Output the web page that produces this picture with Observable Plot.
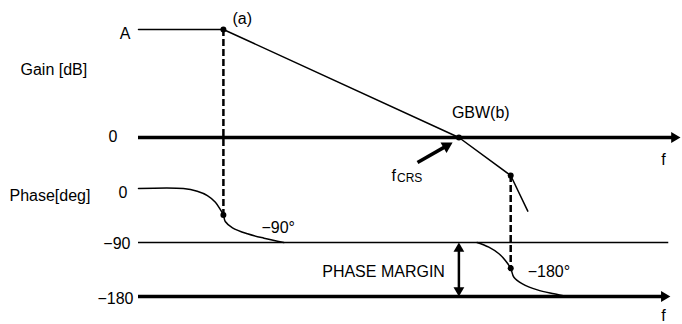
<!DOCTYPE html>
<html>
<head>
<meta charset="utf-8">
<script src="https://cdn.jsdelivr.net/npm/d3@7"></script>
<script src="https://cdn.jsdelivr.net/npm/@observablehq/plot@0.6"></script>
<style>
  body { margin: 0; background: #fff; }
  #chart { width: 682px; height: 324px; }
</style>
</head>
<body>
<div id="chart"></div>
<script>
// ---------------- data ----------------
// x: log-frequency position (arbitrary decades), gain in dB, phase in degrees
const gainA = 88;                 // symbolic open-loop gain "A"
const pole1 = 1.59;               // first pole (a)
const gbw = 6.0;                  // unity-gain crossing GBW(b)
const pole2 = 6.97;               // second pole

const gainX  = [0, pole1, gbw, pole2, 7.29];
const gainDb = [gainA, gainA, 0, -31, -60];

const phase1X   = [0, 0.84, 1.10, 1.29, 1.44, 1.545, pole1, 1.625, 1.76, 2.04, 2.35, 2.72];
const phase1Deg = [0, 0, -4.5, -11.7, -22.8, -37, -44, -55, -65.5, -75.5, -82.8, -90];

const phase2X   = [6.34, 6.56, 6.75, 6.87, pole2, 7.03, 7.19, 7.47, 7.78, 8.03];
const phase2Deg = [-90, -97.8, -108.8, -120, -133, -148, -159, -169, -175.5, -180];

const gainTickLabels  = ["A", "0"];
const gainTickValues  = [gainA, 0];
const phaseTickLabels = ["0", "−90", "−180"];
const phaseTickValues = [0, -90, -180];

const gainAxisEnd  = 10.15;       // frequency axis (gain) arrow tip
const phaseAxisEnd = 9.96;        // frequency axis (phase) arrow tip
const refLineEnd   = 9.93;        // -90° reference line end
const fcrsTail = [5.225, -20.4];  // [x, dB]
const fcrsTip  = [5.88, -4.1];    // [x, dB]

// ---------------- layout / scales ----------------
const W = 682, H = 324;
const xDomain = [0, 10], xRange = [138, 672];
const yDomain = [-180, 0], yRange = [296, 188];
const xS = Plot.scale({x: {domain: xDomain, range: xRange}});
const yS = Plot.scale({y: {domain: yDomain, range: yRange}});
// secondary (gain) axis expressed in the phase scale's units
const gainToY = d3.scaleLinear([0, gainA], [85, 265]);

const phasePole1 = phase1Deg[phase1X.indexOf(pole1)];
const phasePole2 = phase2Deg[phase2X.indexOf(pole2)];
const gainPole2  = gainDb[gainX.indexOf(pole2)];

const gainLine = gainX.map((x, i) => ({x, y: gainToY(gainDb[i])}));
const phase1 = phase1X.map((x, i) => ({x, y: phase1Deg[i]}));
const phase2 = phase2X.map((x, i) => ({x, y: phase2Deg[i]}));

const headR = 4;
const headTip = 1.555 * headR;    // centre-to-tip distance of the triangle symbol

// f_CRS arrow geometry (pixel direction via the scales)
const tail = {x: fcrsTail[0], y: gainToY(fcrsTail[1])};
const tip  = {x: fcrsTip[0],  y: gainToY(fcrsTip[1])};
const tx = xS.apply(tail.x), ty = yS.apply(tail.y);
const hx = xS.apply(tip.x),  hy = yS.apply(tip.y);
const len = Math.hypot(hx - tx, hy - ty);
const ux = (hx - tx) / len, uy = (hy - ty) / len;
const fcrsAngle = Math.atan2(ux, -uy) * 180 / Math.PI;
const fcrsEnd = {x: xS.invert(hx - ux * headTip), y: yS.invert(hy - uy * headTip)};

const font = 16;
const tickOffsets = {"A": [-8, 4], "0g": [-21, -1], "0p": [-11, 4], "−90": [-8, 1], "−180": [-5, 2]};

const tickMarks = [
  ...gainTickLabels.map((t, i) => {
    const key = t === "0" ? "0g" : t;
    return Plot.text([{x: 0, y: gainToY(gainTickValues[i]), t}],
      {x: "x", y: "y", text: "t", textAnchor: "end", dx: tickOffsets[key][0], dy: tickOffsets[key][1], fontSize: font});
  }),
  ...phaseTickLabels.map((t, i) => {
    const key = t === "0" ? "0p" : t;
    return Plot.text([{x: 0, y: phaseTickValues[i], t}],
      {x: "x", y: "y", text: "t", textAnchor: "end", dx: tickOffsets[key][0], dy: tickOffsets[key][1], fontSize: font});
  })
];

const chart = Plot.plot({
  width: W, height: H,
  marginLeft: 0, marginRight: 0, marginTop: 0, marginBottom: 0,
  x: {domain: xDomain, range: xRange, axis: null},
  y: {domain: yDomain, range: yRange, axis: null},
  style: {fontFamily: "'Liberation Sans', Arial, sans-serif", fontSize: font + "px", background: "#fff", overflow: "visible"},
  marks: [
    // frequency axes and -90° reference
    Plot.ruleY([0], {y: d => gainToY(d), x1: 0, x2: gainAxisEnd, insetRight: headTip, stroke: "#000", strokeWidth: 3.5}),
    Plot.dot([{x: gainAxisEnd, y: gainToY(0)}], {x: "x", y: "y", symbol: "triangle", r: headR, rotate: 90, dx: -headTip, fill: "#000", stroke: "none"}),
    Plot.ruleY([-90], {x1: 0, x2: refLineEnd, stroke: "#000", strokeWidth: 1.5}),
    Plot.ruleY([-180], {x1: 0, x2: phaseAxisEnd, insetRight: headTip, stroke: "#000", strokeWidth: 3.5}),
    Plot.dot([{x: phaseAxisEnd, y: -180}], {x: "x", y: "y", symbol: "triangle", r: headR, rotate: 90, dx: -headTip, fill: "#000", stroke: "none"}),

    // dashed connectors at the poles
    Plot.ruleX([{x: pole1, y1: gainToY(gainA), y2: phasePole1}, {x: pole2, y1: gainToY(gainPole2), y2: phasePole2}],
      {x: "x", y1: "y1", y2: "y2", stroke: "#000", strokeWidth: 2.5, strokeDasharray: "7,3"}),

    // gain and phase curves
    Plot.line(gainLine, {x: "x", y: "y", stroke: "#000", strokeWidth: 1.5}),
    Plot.line(phase1, {x: "x", y: "y", stroke: "#000", strokeWidth: 1.5, curve: "catmull-rom"}),
    Plot.line(phase2, {x: "x", y: "y", stroke: "#000", strokeWidth: 1.5, curve: "catmull-rom"}),

    // points
    Plot.dot([{x: pole1, y: gainToY(gainA)}, {x: gbw, y: gainToY(0)}, {x: pole2, y: gainToY(gainPole2)},
              {x: pole1, y: phasePole1}, {x: pole2, y: phasePole2}],
      {x: "x", y: "y", r: 3, fill: "#000", stroke: "none"}),

    // phase margin double arrow
    Plot.ruleX([gbw], {y1: -90, y2: -180, insetTop: headTip, insetBottom: headTip, stroke: "#000", strokeWidth: 2.5}),
    Plot.dot([{x: gbw, y: -90}], {x: "x", y: "y", symbol: "triangle", r: headR, rotate: 0, dy: headTip, fill: "#000", stroke: "none"}),
    Plot.dot([{x: gbw, y: -180}], {x: "x", y: "y", symbol: "triangle", r: headR, rotate: 180, dy: -headTip, fill: "#000", stroke: "none"}),

    // f_CRS pointer arrow
    Plot.link([{x1: tail.x, y1: tail.y, x2: fcrsEnd.x, y2: fcrsEnd.y}], {x1: "x1", y1: "y1", x2: "x2", y2: "y2", stroke: "#000", strokeWidth: 3.5}),
    Plot.dot([tip], {x: "x", y: "y", symbol: "triangle", r: headR + 0.5, rotate: fcrsAngle,
      dx: -ux * headTip * 1.1, dy: -uy * headTip * 1.1, fill: "#000", stroke: "none"}),

    // tick labels
    ...tickMarks,

    // axis titles
    Plot.text(["Gain [dB]"], {frameAnchor: "top-left", dx: 20, dy: 63, textAnchor: "start", fontSize: font}),
    Plot.text(["Phase[deg]"], {frameAnchor: "top-left", dx: 9, dy: 189, textAnchor: "start", fontSize: font}),

    // annotations
    Plot.text([{x: pole1, y: gainToY(gainA)}], {x: "x", y: "y", text: () => "(a)", textAnchor: "start", dx: 9, dy: -11, fontSize: font}),
    Plot.text([{x: gbw, y: gainToY(0)}], {x: "x", y: "y", text: () => "GBW(b)", textAnchor: "start", dx: -7, dy: -25, fontSize: font}),
    Plot.text([tail], {x: "x", y: "y", text: () => "f", textAnchor: "start", dx: -26, dy: 13, fontSize: font}),
    Plot.text([tail], {x: "x", y: "y", text: () => "CRS", textAnchor: "start", dx: -20.5, dy: 15.5, fontSize: 12}),
    Plot.text([{x: pole1, y: phasePole1}], {x: "x", y: "y", text: () => "−90°", textAnchor: "start", dx: 38, dy: 13, fontSize: font}),
    Plot.text([{x: pole2, y: phasePole2}], {x: "x", y: "y", text: () => "−180°", textAnchor: "start", dx: 17, dy: 4, fontSize: font}),
    Plot.text([{x: gbw, y: -135}], {x: "x", y: "y", text: () => "PHASE MARGIN", textAnchor: "end", dx: -14, dy: 2, fontSize: font}),
    Plot.text([{x: gainAxisEnd, y: gainToY(0)}], {x: "x", y: "y", text: () => "f", dx: -17, dy: 22, fontSize: font}),
    Plot.text([{x: phaseAxisEnd, y: -180}], {x: "x", y: "y", text: () => "f", dx: -7, dy: 19, fontSize: font})
  ]
});
document.getElementById("chart").append(chart);
</script>
</body>
</html>
